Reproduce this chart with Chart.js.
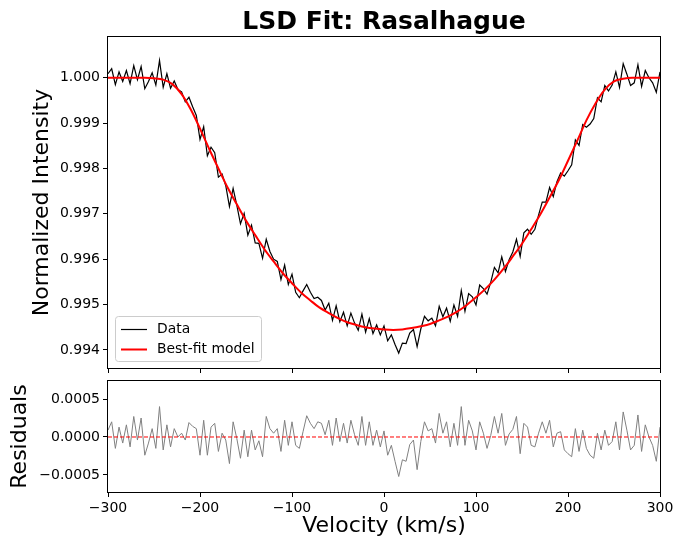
<!DOCTYPE html>
<html>
<head>
<meta charset="utf-8">
<script src="https://cdn.jsdelivr.net/npm/chart.js@4.4.0/dist/chart.umd.min.js"></script>
<style>
  html, body { margin: 0; padding: 0; background: #fff; }
  #wrap { position: relative; width: 678px; height: 543px; }
  #fitChart { position: absolute; left: 0; top: 0; }
  #residChart { position: absolute; left: 0; top: 375px; }
</style>
</head>
<body>
<div id="wrap">
  <canvas id="fitChart" width="678" height="375"></canvas>
  <canvas id="residChart" width="678" height="168"></canvas>
</div>
<script>
// --- data ---
const velocity = [
  -300, -296, -292, -288, -284, -280, -276, -272, -268, -264,
  -260, -256, -252, -248, -244, -240, -236, -232, -228, -224,
  -220, -216, -212, -208, -204, -200, -196, -192, -188, -184,
  -180, -176, -172, -168, -164, -160, -156, -152, -148, -144,
  -140, -136, -132, -128, -124, -120, -116, -112, -108, -104,
  -100, -96, -92, -88, -84, -80, -76, -72, -68, -64,
  -60, -56, -52, -48, -44, -40, -36, -32, -28, -24,
  -20, -16, -12, -8, -4, 0, 4, 8, 12, 16,
  20, 24, 28, 32, 36, 40, 44, 48, 52, 56,
  60, 64, 68, 72, 76, 80, 84, 88, 92, 96,
  100, 104, 108, 112, 116, 120, 124, 128, 132, 136,
  140, 144, 148, 152, 156, 160, 164, 168, 172, 176,
  180, 184, 188, 192, 196, 200, 204, 208, 212, 216,
  220, 224, 228, 232, 236, 240, 244, 248, 252, 256,
  260, 264, 268, 272, 276, 280, 284, 288, 292, 296,
  300
];

const intensity = [
  1.00009, 1.00020, 0.99985, 1.00013, 0.99992, 1.00016, 0.99987, 1.00027, 0.99996, 1.00025,
  0.99976, 0.99992, 1.00011, 0.99984, 1.00038, 0.99979, 1.00009, 0.99977, 0.99993, 0.99974,
  0.99969, 0.99947, 0.99957, 0.99936, 0.99917, 0.99864, 0.99892, 0.99828, 0.99847, 0.99835,
  0.99781, 0.99788, 0.99762, 0.99716, 0.99756, 0.99719, 0.99678, 0.99701, 0.99653, 0.99675,
  0.99636, 0.99635, 0.99602, 0.99644, 0.99617, 0.99600, 0.99595, 0.99555, 0.99587, 0.99544,
  0.99567, 0.99527, 0.99515, 0.99530, 0.99544, 0.99527, 0.99513, 0.99516, 0.99509, 0.99488,
  0.99503, 0.99465, 0.99497, 0.99462, 0.99483, 0.99453, 0.99481, 0.99459, 0.99443, 0.99479,
  0.99439, 0.99469, 0.99436, 0.99455, 0.99433, 0.99453, 0.99420, 0.99433, 0.99412, 0.99393,
  0.99415, 0.99414, 0.99437, 0.99445, 0.99407, 0.99446, 0.99474, 0.99464, 0.99470, 0.99453,
  0.99496, 0.99473, 0.99492, 0.99463, 0.99499, 0.99474, 0.99531, 0.99485, 0.99524, 0.99517,
  0.99499, 0.99543, 0.99535, 0.99523, 0.99549, 0.99582, 0.99570, 0.99605, 0.99573, 0.99599,
  0.99616, 0.99644, 0.99606, 0.99658, 0.99666, 0.99655, 0.99666, 0.99697, 0.99726, 0.99726,
  0.99758, 0.99738, 0.99771, 0.99790, 0.99783, 0.99795, 0.99808, 0.99863, 0.99851, 0.99897,
  0.99891, 0.99898, 0.99910, 0.99956, 0.99947, 0.99983, 0.99971, 0.99984, 1.00013, 0.99979,
  1.00031, 1.00008, 0.99983, 0.99989, 1.00029, 0.99981, 1.00016, 1.00000, 0.99989, 0.99968,
  1.00013
];

const residuals = [
  0.00009, 0.00020, -0.00015, 0.00013, -0.00008, 0.00016, -0.00013, 0.00027, -0.00004, 0.00025,
  -0.00024, -0.00008, 0.00011, -0.00015, 0.00040, -0.00017, 0.00016, -0.00013, 0.00011, 0.00000,
  0.00005, -0.00004, 0.00019, 0.00014, 0.00011, -0.00024, 0.00022, -0.00024, 0.00013, 0.00018,
  -0.00019, 0.00005, -0.00004, -0.00035, 0.00020, -0.00002, -0.00028, 0.00009, -0.00026, 0.00009,
  -0.00017, -0.00005, -0.00026, 0.00027, 0.00011, 0.00005, 0.00011, -0.00019, 0.00022, -0.00011,
  0.00020, -0.00011, -0.00015, 0.00007, 0.00028, 0.00018, 0.00011, 0.00020, 0.00018, 0.00003,
  0.00022, -0.00011, 0.00025, -0.00006, 0.00018, -0.00008, 0.00022, 0.00003, -0.00011, 0.00027,
  -0.00011, 0.00020, -0.00011, 0.00009, -0.00013, 0.00008, -0.00024, -0.00011, -0.00032, -0.00052,
  -0.00030, -0.00032, -0.00010, -0.00004, -0.00043, -0.00006, 0.00020, 0.00008, 0.00011, -0.00008,
  0.00031, 0.00005, 0.00020, -0.00013, 0.00018, -0.00011, 0.00040, -0.00011, 0.00022, 0.00008,
  -0.00017, 0.00020, 0.00005, -0.00015, 0.00002, 0.00027, 0.00005, 0.00031, -0.00011, 0.00004,
  0.00010, 0.00027, -0.00022, 0.00018, 0.00013, -0.00011, -0.00013, 0.00005, 0.00020, 0.00005,
  0.00022, -0.00013, 0.00005, 0.00007, -0.00017, -0.00022, -0.00026, 0.00011, -0.00019, 0.00009,
  -0.00015, -0.00024, -0.00028, 0.00005, -0.00017, 0.00009, -0.00011, -0.00006, 0.00020, -0.00017,
  0.00033, 0.00009, -0.00017, -0.00011, 0.00029, -0.00019, 0.00016, 0.00000, -0.00011, -0.00032,
  0.00013
];

const modelVelocity = [
  -300, -290, -280, -270, -260, -250, -240, -230, -220, -210,
  -200, -190, -180, -170, -160, -150, -140, -130, -120, -110,
  -100, -90, -80, -70, -60, -50, -40, -30, -20, -10,
  0, 10, 20, 30, 40, 50, 60, 70, 80, 90,
  100, 110, 120, 130, 140, 150, 160, 170, 180, 190,
  200, 210, 220, 230, 240, 250, 260, 270, 280, 290,
  300
];

const modelIntensity = [
  1.00000, 1.00000, 1.00000, 1.00000, 1.00000, 0.99999, 0.99996, 0.99986, 0.99964, 0.99930,
  0.99888, 0.99843, 0.99800, 0.99758, 0.99721, 0.99685, 0.99653, 0.99622, 0.99595, 0.99569,
  0.99547, 0.99526, 0.99509, 0.99493, 0.99481, 0.99470, 0.99461, 0.99455, 0.99450, 0.99447,
  0.99445, 0.99444, 0.99445, 0.99448, 0.99452, 0.99457, 0.99465, 0.99474, 0.99485, 0.99499,
  0.99516, 0.99534, 0.99555, 0.99579, 0.99606, 0.99634, 0.99666, 0.99699, 0.99736, 0.99774,
  0.99817, 0.99861, 0.99906, 0.99944, 0.99974, 0.99992, 0.99998, 1.00000, 1.00000, 1.00000,
  1.00000
];

const zeroVelocity = [-300, 300];
const zeroLevel = [0, 0];

const velocityTicks = [-300, -200, -100, 0, 100, 200, 300];
const intensityTicks = [0.994, 0.995, 0.996, 0.997, 0.998, 0.999, 1.000];
const residualTicks = [-0.0005, 0, 0.0005];

// --- helpers ---
Chart.defaults.font.family = "'DejaVu Sans', sans-serif";
Chart.defaults.color = '#000';
Chart.defaults.animation = false;

const toPoints = (xs, ys) => xs.map((x, i) => ({ x: x, y: ys[i] }));
const fmt = (v, digits) => (v < 0 ? '\u2212' : '') + Math.abs(v).toFixed(digits);
const useTicks = values => scale => { scale.ticks = values.map(value => ({ value })); };
const tickMarks = { display: true, drawOnChartArea: false, drawTicks: true, tickLength: 5, color: '#000', lineWidth: 1 };

// box round the plot area, like matplotlib spines
const framePlugin = {
  id: 'frame',
  afterDatasetsDraw(chart) {
    const { ctx, chartArea: a } = chart;
    ctx.save();
    ctx.strokeStyle = '#000';
    ctx.lineWidth = 1;
    ctx.strokeRect(Math.round(a.left) - 0.5, Math.round(a.top) - 0.5,
                   Math.round(a.right - a.left) + 1, Math.round(a.bottom - a.top) + 1);
    ctx.restore();
  }
};

// legend box in the lower left corner
const legendPlugin = {
  id: 'cornerLegend',
  afterDraw(chart) {
    const { ctx, chartArea: a } = chart;
    const fs = 13.9;
    const items = chart.data.datasets.filter(d => d.label);
    ctx.save();
    ctx.font = fs + "px 'DejaVu Sans', sans-serif";
    const textW = Math.max(...items.map(d => ctx.measureText(d.label).width));
    const pad = 6, handle = 26, gap = 10, rowH = 13, spacing = 7;
    const w = pad + handle + gap + textW + pad;
    const h = 2 * pad + items.length * rowH + (items.length - 1) * spacing;
    const x = a.left + 7, y = a.bottom - 7 - h;
    ctx.fillStyle = 'rgba(255,255,255,0.8)';
    ctx.strokeStyle = '#cccccc';
    ctx.lineWidth = 1;
    ctx.beginPath();
    ctx.roundRect(Math.round(x) + 0.5, Math.round(y) + 0.5, Math.round(w), Math.round(h), 3);
    ctx.fill();
    ctx.stroke();
    items.forEach((d, i) => {
      const cy = Math.round(y + pad + i * (rowH + spacing) + rowH / 2) + 0.5;
      ctx.strokeStyle = d.borderColor;
      ctx.lineWidth = d.borderWidth;
      ctx.beginPath();
      ctx.moveTo(x + pad, cy);
      ctx.lineTo(x + pad + handle, cy);
      ctx.stroke();
      ctx.fillStyle = '#000';
      ctx.textBaseline = 'middle';
      ctx.fillText(d.label, x + pad + handle + gap, cy);
    });
    ctx.restore();
  }
};

// --- top panel: data and model ---
new Chart(document.getElementById('fitChart'), {
  type: 'line',
  data: {
    datasets: [
      {
        label: 'Data',
        data: toPoints(velocity, intensity),
        borderColor: '#000000',
        borderWidth: 1.2,
        pointRadius: 0,
        tension: 0,
        order: 2
      },
      {
        label: 'Best-fit model',
        data: toPoints(modelVelocity, modelIntensity),
        borderColor: '#ff0000',
        borderWidth: 2,
        pointRadius: 0,
        cubicInterpolationMode: 'monotone',
        order: 1
      }
    ]
  },
  options: {
    responsive: false,
    layout: { padding: { top: 0, right: 18, left: 0, bottom: 0 } },
    plugins: {
      legend: { display: false },
      tooltip: { enabled: false },
      title: {
        display: true,
        fullSize: false,
        text: 'LSD Fit: Rasalhague',
        font: { size: 25, weight: 'bold' },
        color: '#000',
        padding: { top: 7, bottom: 0 }
      }
    },
    scales: {
      x: {
        type: 'linear', min: -300, max: 300,
        afterBuildTicks: useTicks(velocityTicks),
        ticks: { display: false },
        grid: tickMarks,
        border: { display: false },
        afterFit: s => { s.height = 7; s.paddingLeft = 0; s.paddingRight = 0; }
      },
      y: {
        min: 0.99360, max: 1.00090,
        afterBuildTicks: useTicks(intensityTicks),
        ticks: { callback: v => fmt(v, 3), font: { size: 14 }, padding: 3, color: '#000' },
        grid: tickMarks,
        border: { display: false },
        title: { display: true, text: 'Normalized Intensity', font: { size: 22 }, color: '#000', padding: { top: 29, bottom: 0 } },
        afterFit: s => { s.width = 108; s.paddingTop = 0; s.paddingBottom = 0; }
      }
    }
  },
  plugins: [framePlugin, legendPlugin]
});

// --- bottom panel: residuals ---
new Chart(document.getElementById('residChart'), {
  type: 'line',
  data: {
    datasets: [
      {
        label: '',
        data: toPoints(zeroVelocity, zeroLevel),
        borderColor: '#ff0000',
        borderWidth: 1,
        borderDash: [4, 2],
        pointRadius: 0,
        order: 1
      },
      {
        label: '',
        data: toPoints(velocity, residuals),
        borderColor: '#808080',
        borderWidth: 1,
        pointRadius: 0,
        tension: 0,
        order: 2
      }
    ]
  },
  options: {
    responsive: false,
    layout: { padding: { top: 6, right: 18, left: 0, bottom: 0 } },
    plugins: { legend: { display: false }, tooltip: { enabled: false } },
    scales: {
      x: {
        type: 'linear', min: -300, max: 300,
        afterBuildTicks: useTicks(velocityTicks),
        ticks: { callback: v => fmt(v, 0), font: { size: 14 }, padding: 3, color: '#000', maxRotation: 0 },
        grid: tickMarks,
        border: { display: false },
        title: { display: true, text: 'Velocity (km/s)', font: { size: 22 }, color: '#000', padding: { top: 0, bottom: 4 } },
        afterFit: s => { s.height = 51; s.paddingLeft = 0; s.paddingRight = 0; }
      },
      y: {
        min: -0.000724, max: 0.000737,
        afterBuildTicks: useTicks(residualTicks),
        ticks: { callback: v => fmt(v, 4), font: { size: 14 }, padding: 3, color: '#000' },
        grid: tickMarks,
        border: { display: false },
        title: { display: true, text: 'Residuals', font: { size: 22 }, color: '#000', padding: { top: 7, bottom: 0 } },
        afterFit: s => { s.width = 108; s.paddingTop = 0; s.paddingBottom = 0; }
      }
    }
  },
  plugins: [framePlugin]
});
</script>
</body>
</html>
